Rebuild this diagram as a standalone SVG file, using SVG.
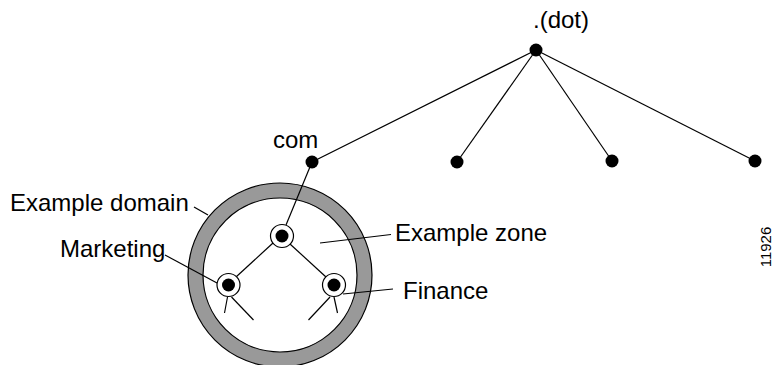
<svg xmlns="http://www.w3.org/2000/svg" width="775" height="365" viewBox="0 0 775 365">
  <style>
    .lbl { font-family: "Liberation Sans", Arial, sans-serif; font-size: 24px; fill: #000; }
    .num { font-family: "Liberation Sans", Arial, sans-serif; font-size: 15px; fill: #000; }
    .ln { stroke: #000; stroke-width: 1.2; fill: none; }
    .dot { fill: #000; }
    .ring { fill: #fff; stroke: #000; stroke-width: 1.2; }
  </style>
  <rect width="775" height="365" fill="#fff"/>

  <!-- domain boundary: gray ring -->
  <g id="domain">
    <circle cx="280" cy="275" r="84.5" fill="#fff" stroke="#999" stroke-width="15"/>
    <circle cx="280" cy="275" r="92" fill="none" stroke="#000" stroke-width="1.2"/>
    <circle cx="280" cy="275" r="77" fill="none" stroke="#000" stroke-width="1.2"/>
  </g>

  <!-- connectors -->
  <g id="connectors" class="ln">
    <line x1="536" y1="50" x2="312" y2="162"/>
    <line x1="536" y1="50" x2="457" y2="162"/>
    <line x1="536" y1="50" x2="612" y2="161"/>
    <line x1="536" y1="50" x2="755" y2="161"/>
    <line x1="312" y1="162" x2="286" y2="225"/>
    <line x1="273" y1="243" x2="236" y2="277"/>
    <line x1="290" y1="244" x2="326" y2="277"/>
    <line x1="227.5" y1="297" x2="224.5" y2="313"/>
    <line x1="231.5" y1="297" x2="253.5" y2="320"/>
    <line x1="330" y1="297" x2="308.5" y2="320"/>
    <line x1="334" y1="297" x2="337.5" y2="313"/>
    <!-- label leaders -->
    <line x1="194" y1="207" x2="208" y2="215"/>
    <line x1="165" y1="255" x2="217" y2="283"/>
    <line x1="320" y1="243" x2="391" y2="234.5"/>
    <line x1="343" y1="294" x2="393" y2="289"/>
  </g>

  <!-- tree nodes -->
  <g id="root"><circle class="dot" cx="536" cy="50" r="6.5"/></g>
  <g id="com"><circle class="dot" cx="312" cy="162" r="6.5"/></g>
  <g id="tld2"><circle class="dot" cx="457" cy="162" r="6.5"/></g>
  <g id="tld3"><circle class="dot" cx="612" cy="161" r="6.5"/></g>
  <g id="tld4"><circle class="dot" cx="755" cy="161" r="6.5"/></g>

  <!-- zone nodes -->
  <g id="example-node">
    <circle class="ring" cx="282" cy="236" r="11.5"/>
    <circle class="dot" cx="282" cy="236" r="6.5"/>
  </g>
  <g id="marketing-node">
    <circle class="ring" cx="228.5" cy="285" r="11.5"/>
    <circle class="dot" cx="228.5" cy="285" r="6.5"/>
  </g>
  <g id="finance-node">
    <circle class="ring" cx="334" cy="285" r="11.5"/>
    <circle class="dot" cx="334" cy="285" r="6.5"/>
  </g>

  <!-- labels -->
  <g id="labels">
    <text class="lbl" x="533" y="28">.(dot)</text>
    <text class="lbl" x="273" y="148">com</text>
    <text class="lbl" x="10" y="211">Example domain</text>
    <text class="lbl" x="60" y="257">Marketing</text>
    <text class="lbl" x="395" y="241">Example zone</text>
    <text class="lbl" x="403" y="299">Finance</text>
    <text class="num" transform="translate(771,247) rotate(-90)" text-anchor="middle">11926</text>
  </g>
</svg>
